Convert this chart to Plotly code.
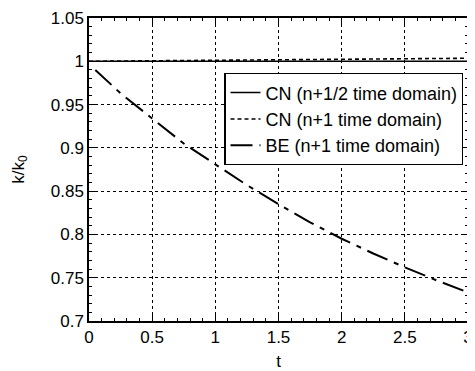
import plotly.graph_objects as go

t_cn_half = [0.0, 0.5, 1.0, 1.5, 2.0, 2.5, 3.0]
k_cn_half = [1.0, 1.0, 1.0, 1.0, 1.0, 1.0, 1.0]

t_cn_one = [0.0, 0.5, 1.0, 1.5, 2.0, 2.5, 3.0]
k_cn_one = [1.0, 1.0006, 1.0012, 1.0018, 1.0024, 1.003, 1.0035]

t_be = [0.05, 0.25, 0.5, 0.75, 1.0, 1.25, 1.5, 1.75, 2.0, 2.25, 2.5, 2.75, 3.0]
k_be = [0.99, 0.963, 0.934, 0.905, 0.881, 0.857, 0.835, 0.814, 0.795, 0.778, 0.762, 0.747, 0.733]

names = ["CN (n+1/2 time domain)", "CN (n+1 time domain)", "BE (n+1 time domain)"]

FONT = "Liberation Sans, Arial, sans-serif"

fig = go.Figure()
fig.add_trace(go.Scatter(x=t_cn_half, y=k_cn_half, mode="lines", name=names[0], legendgroup="a",
                         line=dict(color="black", width=1.6)))
fig.add_trace(go.Scatter(x=t_cn_one, y=k_cn_one, mode="lines", name=names[1], legendgroup="b",
                         line=dict(color="black", width=1.6, dash="4px,3px")))
fig.add_trace(go.Scatter(x=t_be, y=k_be, mode="lines", name=names[2], legendgroup="c",
                         line=dict(color="black", width=2, dash="22px,7px,5px,7px")))

axis_common = dict(
    showline=True, linecolor="black", linewidth=1.5, mirror="allticks",
    ticks="inside", ticklen=6, tickwidth=1.2, tickcolor="black",
    showgrid=True, gridcolor="black", gridwidth=1, griddash="dot",
    zeroline=False, automargin=False,
    tickfont=dict(family=FONT, size=17, color="black"),
)

fig.update_xaxes(range=[0, 3], dtick=0.5, tick0=0,
                 minor=dict(dtick=0.1, ticks="inside", ticklen=3.5, tickcolor="black", showgrid=False),
                 title=dict(text="t", font=dict(family=FONT, size=17, color="black"), standoff=12),
                 **axis_common)
fig.update_yaxes(range=[0.7, 1.05], dtick=0.05, tick0=0.7,
                 minor=dict(dtick=0.01, ticks="inside", ticklen=3.5, tickcolor="black", showgrid=False),
                 title=dict(text="k/k<sub>0</sub>", font=dict(family=FONT, size=17, color="black"), standoff=22),
                 **axis_common)

# the page body has an 8px margin, so the figure is sized/offset to compensate
fig.update_layout(
    width=467, height=363,
    margin=dict(l=81, r=7, t=10, b=50, autoexpand=False),
    plot_bgcolor="white", paper_bgcolor="white",
    showlegend=True,
    legend=dict(x=0.357, y=0.818, xanchor="left", yanchor="top",
                bgcolor="white", bordercolor="black", borderwidth=1.2,
                font=dict(family=FONT, size=18, color="black"),
                tracegroupgap=0, itemwidth=30),
)

fig.write_html("out.html")
